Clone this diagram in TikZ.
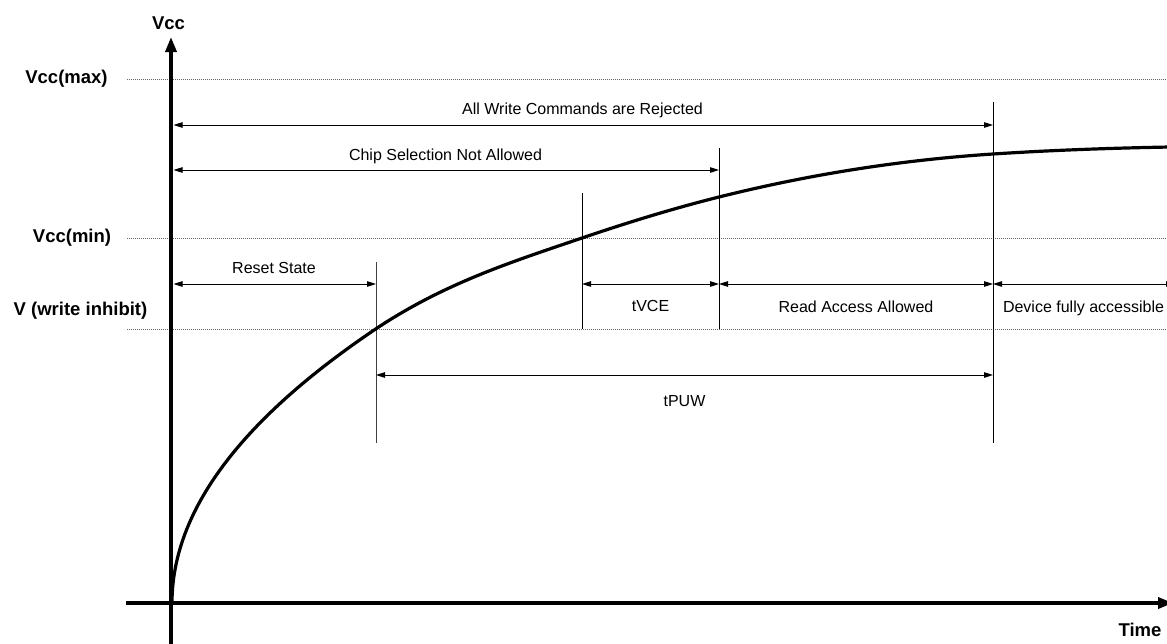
\documentclass[tikz,border=0pt]{standalone}
\usepackage{fontspec}
\setmainfont{Liberation Sans}
\usetikzlibrary{arrows.meta}
\begin{document}
\begin{tikzpicture}[x=1pt,y=-1pt,
  lbl/.style={font=\fontsize{16}{19}\selectfont, inner sep=0pt},
  blbl/.style={font=\fontsize{18.5}{22}\selectfont\bfseries, inner sep=0pt},
  axisline/.style={line width=3.5pt, -{Triangle[length=15pt,width=11pt]}},
  guide/.style={black!60, line width=0.8pt, dash pattern=on 1pt off 1pt},
  tickline/.style={line width=1pt},
  dim/.style={line width=1pt, {Triangle[length=9pt,width=5.5pt]}-{Triangle[length=9pt,width=5.5pt]}},
]
\useasboundingbox (0,0) rectangle (1167,643);

% guide levels
\coordinate (gmaxL) at (127,79);  \coordinate (gmaxR) at (1167,79);
\coordinate (gminL) at (127,238); \coordinate (gminR) at (1167,238);
\coordinate (gwiL)  at (127,329); \coordinate (gwiR)  at (1167,329);
\draw[guide] (gmaxL) -- (gmaxR);
\draw[guide] (gminL) -- (gminR);
\draw[guide] (gwiL) -- (gwiR);

\node[blbl] (lmax) at (66.5,79) {Vcc(max)};
\node[blbl] (lmin) at (72,238) {Vcc(min)};
\node[blbl] (lwi) at (80.5,311) {V (write inhibit)};

% vertical markers
\coordinate (v1t) at (376,262); \coordinate (v1b) at (376,443);
\coordinate (v2t) at (582,193); \coordinate (v2b) at (582,329);
\coordinate (v3t) at (719,148); \coordinate (v3b) at (719,329);
\coordinate (v4t) at (993,102); \coordinate (v4b) at (993,443);
\draw[tickline, black!75] (v1t) -- (v1b);
\draw[tickline] (v2t) -- (v2b);
\draw[tickline] (v3t) -- (v3b);
\draw[tickline] (v4t) -- (v4b);

% dimension arrows
\coordinate (awL) at (173.5,125); \coordinate (awR) at (993,125);
\coordinate (csL) at (173.5,170); \coordinate (csR) at (719,170);
\coordinate (rsL) at (173.5,284); \coordinate (rsR) at (376,284);
\coordinate (tvL) at (582,284);   \coordinate (tvR) at (719,284);
\coordinate (raL) at (719,284);   \coordinate (raR) at (993,284);
\coordinate (dfL) at (993,284);   \coordinate (dfR) at (1175,284);
\coordinate (puL) at (376,375);   \coordinate (puR) at (993,375);
\draw[dim] (awL) -- (awR);
\draw[dim] (csL) -- (csR);
\draw[dim] (rsL) -- (rsR);
\draw[dim] (tvL) -- (tvR);
\draw[dim] (raL) -- (raR);
\draw[dim] (dfL) -- (dfR);
\draw[dim] (puL) -- (puR);

\node[lbl, anchor=base] (taw) at (582.5,114) {All Write Commands are Rejected};
\node[lbl, anchor=base] (tcs) at (445.5,160) {Chip Selection Not Allowed};
\node[lbl, anchor=base] (trs) at (274,273) {Reset State};
\node[lbl, anchor=base] (ttv) at (650.5,311) {tVCE};
\node[lbl, anchor=base] (tra) at (856,312) {Read Access Allowed};
\node[lbl, anchor=base] (tdf) at (1083.5,312) {Device fully accessible};
\node[lbl, anchor=base] (tpu) at (684.5,406) {tPUW};

% supply curve
\coordinate (cA) at (376,328.8);
\coordinate (cC) at (582,238);
\coordinate (cD) at (719,197);
\coordinate (cE) at (993,154);
\coordinate (cF) at (1170,147);
\draw[line width=3.2pt, line join=round]
  plot[variable=\t, domain=0:14.2829, samples=80, smooth] ({172+\t*\t},{603-19.2*\t})
  .. controls (444.67,283.0) and (513.33,261.35) .. (cC)
  .. controls (627.67,222.47) and (673.33,208.42) .. (cD)
  .. controls (810.33,174.17) and (901.67,159.94) .. (cE)
  .. controls (1051,150.23) and (1110,148.1) .. (cF);

% axes
\coordinate (yb) at (171,646); \coordinate (yt) at (171,37);
\coordinate (xl) at (126,603); \coordinate (xr) at (1173,603);
\draw[axisline] (yb) -- (yt);
\draw[axisline] (xl) -- (xr);
\node[blbl] (lvcc) at (168.5,23) {Vcc};
\node[blbl] (ltime) at (1140,630) {Time};
\end{tikzpicture}
\end{document}
